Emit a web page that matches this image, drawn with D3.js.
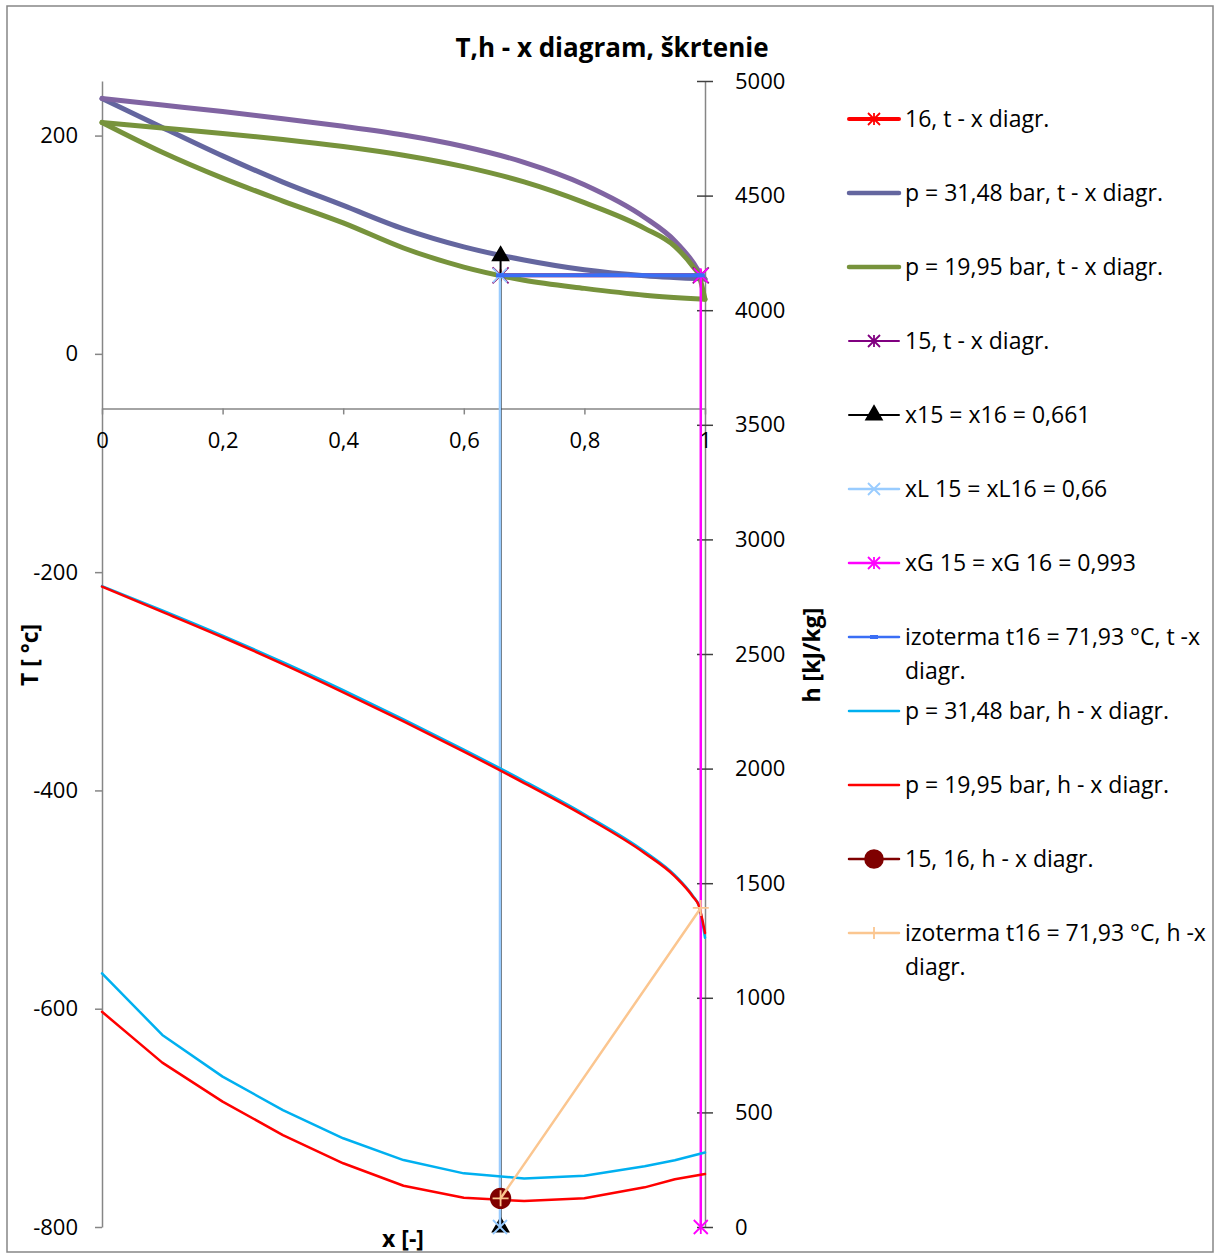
<!DOCTYPE html>
<html>
<head>
<meta charset="utf-8">
<script src="https://d3js.org/d3.v7.min.js"></script>
<style>
  body { margin: 0; background: #fff; }
  svg text { font-family: "Open Sans", "Noto Sans", sans-serif; fill: #000; }
</style>
</head>
<body>
<svg id="chart"></svg>
<script>
// --- data ---
const xDew = [0, 0.1, 0.2, 0.3, 0.4, 0.5, 0.6, 0.7, 0.8, 0.9, 0.95, 0.98, 0.99, 1];
const tDew3148 = [234, 228, 222, 215.5, 208.5, 200.5, 190, 175.5, 155, 125, 103.5, 84, 75.5, 68.5];
const tDew1995 = [212, 207, 202, 196.5, 190, 182, 171.5, 157.5, 138.5, 115, 98.5, 80, 72, 50];

const xBub = [0, 0.1, 0.2, 0.3, 0.4, 0.5, 0.6, 0.7, 0.8, 0.9, 1];
const tBub3148 = [234, 207.5, 181.4, 157.4, 136, 114.5, 98, 86, 77, 71.5, 68.5];
const tBub1995 = [212, 184.7, 161, 140, 120, 97, 79.5, 67.5, 60, 53.8, 50];

const xHv = [0, 0.1, 0.2, 0.3, 0.4, 0.5, 0.6, 0.7, 0.8, 0.9, 0.95, 0.98, 0.99, 1];
const hVap3148 = [2796, 2690, 2580, 2464, 2342, 2215, 2083, 1946, 1801, 1638, 1535, 1444, 1402, 1262];
const hVap1995 = [2794, 2684, 2573, 2456, 2333, 2206, 2074, 1937, 1793, 1631, 1530, 1441, 1400, 1283];

const xHl = [0, 0.1, 0.2, 0.3, 0.4, 0.5, 0.6, 0.7, 0.8, 0.9, 0.95, 1];
const hLiq3148 = [1107, 838, 656, 510, 387, 292, 234, 212, 224, 265, 291, 325];
const hLiq1995 = [939, 717, 547, 401, 278, 180, 128, 113, 125, 173, 208, 231];

const x15 = 0.661, xL = 0.66, xG = 0.993, t16 = 71.93;
const xLine = [x15, x15], tLine = [-800, 89.7];
const xLLine = [xL, xL], tLLine = [-800, t16];
const xGLine = [xG, xG], tGLine = [-800, t16];
const xIso = [xL, xG], tIso = [t16, t16];
const xPt15 = [x15, xG], tPt15 = [t16, t16];
const xPtH = [x15], hPtH = [125];
const xIsoH = [x15, xG], hIsoH = [125, 1392];

const xTicks = [0, 0.2, 0.4, 0.6, 0.8, 1];
const tTicks = [-800, -600, -400, -200, 0, 200];
const hTicks = [0, 500, 1000, 1500, 2000, 2500, 3000, 3500, 4000, 4500, 5000];

const legendLabels = [
  ["16, t - x diagr."],
  ["p = 31,48 bar, t - x diagr."],
  ["p = 19,95 bar, t - x diagr."],
  ["15, t - x diagr."],
  ["x15 = x16 = 0,661"],
  ["xL 15 = xL16 = 0,66"],
  ["xG 15 = xG 16 = 0,993"],
  ["izoterma t16 = 71,93 °C, t -x", "diagr."],
  ["p = 31,48 bar, h - x diagr."],
  ["p = 19,95 bar, h - x diagr."],
  ["15, 16, h - x diagr."],
  ["izoterma t16 = 71,93 °C, h -x", "diagr."]
];

// --- setup ---
const W = 1215, H = 1254;
const svg = d3.select('#chart')
  .attr('width', W)
  .attr('height', H)
  .attr('viewBox', `0 0 ${W} ${H}`);

svg.append('rect')
  .attr('x', 7).attr('y', 6)
  .attr('width', 1206).attr('height', 1246)
  .attr('fill', '#fff')
  .attr('stroke', '#868686')
  .attr('stroke-width', 1.5);

const plotLeft = 102, plotRight = 705, plotTop = 81, plotBottom = 1227;
const xScale = d3.scaleLinear().domain([0, 1]).range([plotLeft, plotRight]);
const tScale = d3.scaleLinear().domain([-800, 250]).range([plotBottom, plotTop]);
const hScale = d3.scaleLinear().domain([0, 5000]).range([plotBottom, plotTop]);

// axes
const axisColor = '#868686';
const tickFont = 22;

const gLeft = svg.append('g')
  .attr('transform', `translate(${plotLeft},0)`)
  .call(d3.axisLeft(tScale).tickValues(tTicks).tickSize(7).tickSizeOuter(0).tickPadding(17)
    .tickFormat(d => String(d)));
gLeft.select('.domain').attr('stroke', axisColor).attr('stroke-width', 1.5);
gLeft.selectAll('.tick line').attr('stroke', axisColor).attr('stroke-width', 1.5);
gLeft.selectAll('.tick text').attr('font-size', tickFont).attr('font-family', '"Open Sans", sans-serif');

const gRight = svg.append('g')
  .attr('transform', `translate(${plotRight},0)`)
  .call(d3.axisRight(hScale).tickValues(hTicks).tickSize(8).tickSizeOuter(0).tickPadding(22)
    .tickFormat(d => String(d)));
gRight.select('.domain').attr('stroke', axisColor).attr('stroke-width', 1.5);
gRight.selectAll('.tick line').attr('x1', -8).attr('stroke', '#404040').attr('stroke-width', 1.5);
gRight.selectAll('.tick text').attr('font-size', tickFont).attr('font-family', '"Open Sans", sans-serif');

const gBottom = svg.append('g')
  .attr('transform', `translate(0,${tScale(-50)})`)
  .call(d3.axisBottom(xScale).tickValues(xTicks).tickSize(6).tickSizeOuter(0).tickPadding(18)
    .tickFormat(d => String(d).replace('.', ',')));
gBottom.select('.domain').attr('stroke', axisColor).attr('stroke-width', 1.5);
gBottom.selectAll('.tick line').attr('stroke', axisColor).attr('stroke-width', 1.5);
gBottom.selectAll('.tick text').attr('font-size', tickFont).attr('font-family', '"Open Sans", sans-serif');

// titles
svg.append('text')
  .attr('x', 612).attr('y', 57)
  .attr('text-anchor', 'middle')
  .attr('font-size', 26).attr('font-weight', 'bold')
  .text('T,h - x diagram, škrtenie');

svg.append('text')
  .attr('transform', 'translate(38,655) rotate(-90)')
  .attr('text-anchor', 'middle')
  .attr('font-size', 23).attr('font-weight', 'bold')
  .text('T [ °c]');

svg.append('text')
  .attr('transform', 'translate(820,655) rotate(-90)')
  .attr('text-anchor', 'middle')
  .attr('font-size', 23).attr('font-weight', 'bold')
  .text('h [kJ/kg]');

svg.append('text')
  .attr('x', 403).attr('y', 1247)
  .attr('text-anchor', 'middle')
  .attr('font-size', 23).attr('font-weight', 'bold')
  .text('x [-]');

// marker shapes
function markerPath(type, s) {
  if (type === 'star') return `M${-s},${-s}L${s},${s}M${-s},${s}L${s},${-s}M0,${-s}L0,${s}`;
  if (type === 'x') return `M${-s},${-s}L${s},${s}M${-s},${s}L${s},${-s}`;
  if (type === 'plus') return `M${-s},0L${s},0M0,${-s}L0,${s}`;
  if (type === 'dash') return `M${-s},0L${s},0`;
  if (type === 'triangle') return d3.symbol(d3.symbolTriangle, 105)();
  if (type === 'circle') return d3.symbol(d3.symbolCircle, s ? s : 290)();
  return '';
}

function drawMarker(g, type, x, y, color, size) {
  const filled = type === 'triangle' || type === 'circle';
  g.append('path')
    .attr('d', markerPath(type, size))
    .attr('transform', `translate(${x},${y})`)
    .attr('fill', filled ? color : 'none')
    .attr('stroke', color)
    .attr('stroke-width', type === 'dash' ? 4 : 1.8);
}

// series definitions in Excel drawing order
const series = [
  { xs: xPt15, ys: tPt15, y: tScale, color: '#FF0000', w: 4, marker: 'star', ms: 6, legend: 0 },
  { xs: xBub, ys: tBub3148, y: tScale, color: '#64669F', w: 5, curve: true, legend: 1 },
  { xs: xDew, ys: tDew3148, y: tScale, color: '#8064A2', w: 5, curve: true },
  { xs: xBub, ys: tBub1995, y: tScale, color: '#77933C', w: 5, curve: true, legend: 2 },
  { xs: xDew, ys: tDew1995, y: tScale, color: '#77933C', w: 5, curve: true },
  { xs: xPt15, ys: tPt15, y: tScale, color: '#8B1A7F', w: 2, marker: 'x', ms: 8, legend: 3, legendMarker: 'star', legendColor: '#800080' },
  { xs: xLine, ys: tLine, y: tScale, color: '#000000', w: 2, marker: 'triangle', legend: 4 },
  { xs: xLLine, ys: tLLine, y: tScale, color: '#99CCFF', w: 2.5, marker: 'x', ms: 7, legend: 5 },
  { xs: xGLine, ys: tGLine, y: tScale, color: '#FF00FF', w: 2.5, marker: 'star', ms: 7, legend: 6 },
  { xs: xIso, ys: tIso, y: tScale, color: '#3A6EF5', w: 4, legendW: 2.5, marker: 'dash', ms: 4, legend: 7 },
  { xs: xHv, ys: hVap3148, y: hScale, color: '#00B0F0', w: 2.5, curve: true, legend: 8 },
  { xs: xHl, ys: hLiq3148, y: hScale, color: '#00B0F0', w: 2.5 },
  { xs: xHv, ys: hVap1995, y: hScale, color: '#FF0000', w: 2.5, curve: true, legend: 9 },
  { xs: xHl, ys: hLiq1995, y: hScale, color: '#FF0000', w: 2.5 },
  { xs: xPtH, ys: hPtH, y: hScale, color: '#7F0000', w: 2.5, marker: 'circle', ms: 300, legend: 10 },
  { xs: xIsoH, ys: hIsoH, y: hScale, color: '#FBC690', w: 2.5, marker: 'plus', ms: 8, legend: 11 }
];

const plot = svg.append('g');

series.forEach(s => {
  const pts = s.xs.map((x, i) => [x, s.ys[i]]);
  const line = d3.line()
    .x(d => xScale(d[0]))
    .y(d => s.y(d[1]))
    .curve(s.curve ? d3.curveMonotoneX : d3.curveLinear);
  if (pts.length > 1) {
    plot.append('path')
      .datum(pts)
      .attr('d', line)
      .attr('fill', 'none')
      .attr('stroke', s.color)
      .attr('stroke-width', s.w)
      .attr('stroke-linejoin', 'round')
      .attr('stroke-linecap', 'round');
  }
  if (s.marker) {
    pts.forEach(d => drawMarker(plot, s.marker, xScale(d[0]), s.y(d[1]), s.color, s.ms));
  }
});

// legend
const legend = svg.append('g');
const legY0 = 119, legStep = 74;
series.filter(s => s.legend !== undefined).forEach(s => {
  const y = legY0 + s.legend * legStep;
  const color = s.legendColor || s.color;
  const g = legend.append('g');
  g.append('line')
    .attr('x1', 849).attr('x2', 899)
    .attr('y1', y).attr('y2', y)
    .attr('stroke', color)
    .attr('stroke-width', s.legendW || Math.min(s.w, 4.5))
    .attr('stroke-linecap', 'round');
  const mk = s.legendMarker || s.marker;
  if (mk) drawMarker(g, mk, 874, y, color, mk === 'dash' ? 4 : mk === 'circle' ? 250 : 6);
  const lines = legendLabels[s.legend];
  lines.forEach((t, i) => {
    g.append('text')
      .attr('x', 905)
      .attr('y', y + 8 + i * 34)
      .attr('font-size', 23)
      .text(t);
  });
});
</script>
</body>
</html>
